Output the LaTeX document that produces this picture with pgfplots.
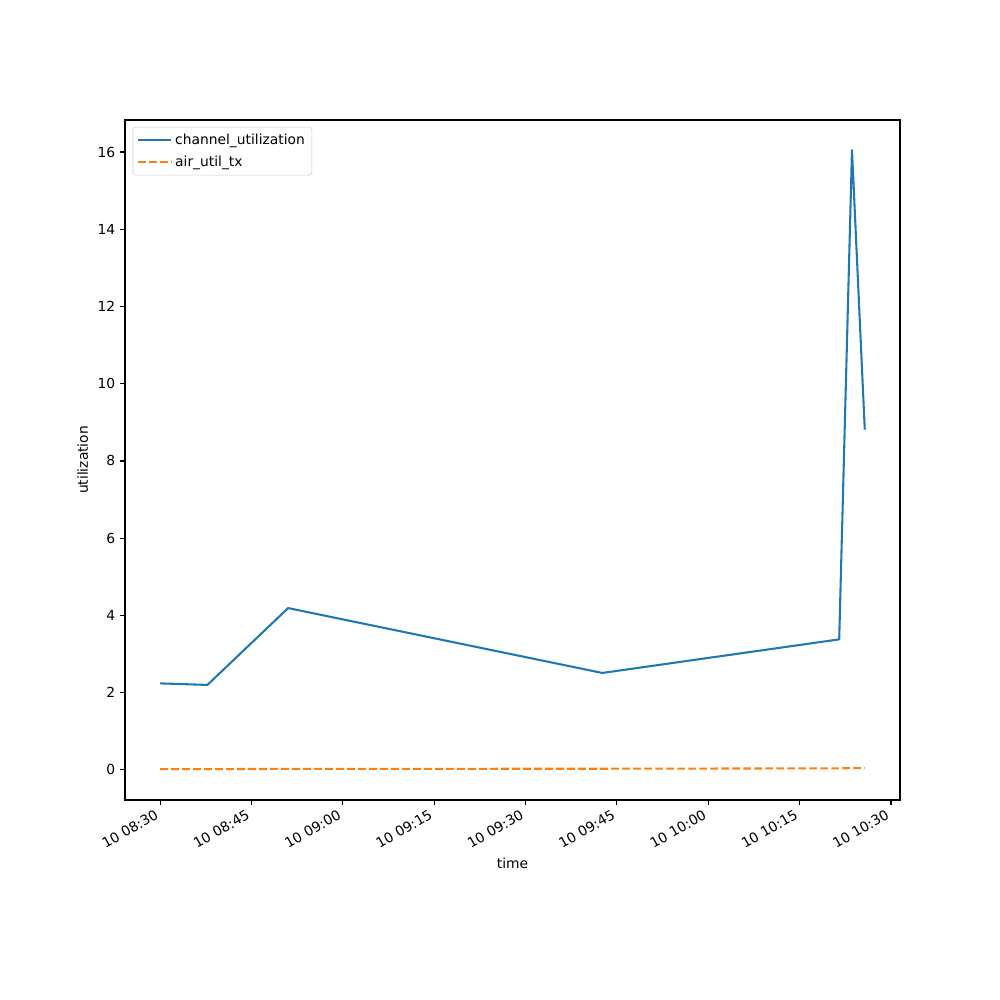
\documentclass[border=0pt]{standalone}
\usepackage{pgfplots}
\pgfplotsset{compat=1.18}
\usepackage{fontspec}
\setmainfont{DejaVu Sans}
\definecolor{tabblue}{HTML}{1F77B4}
\definecolor{taborange}{HTML}{FF7F0E}
\begin{document}
\begin{tikzpicture}
\begin{axis}[
  scale only axis,
  width=7.75in, height=6.8in,
  xmin=-5.785, xmax=121.485,
  ymin=-0.78, ymax=16.83,
  xtick={0,15,30,45,60,75,90,105,120},
  xticklabels={10 08:30,10 08:45,10 09:00,10 09:15,10 09:30,10 09:45,10 10:00,10 10:15,10 10:30},
  x tick label style={xshift=-3.6pt, rotate=30, anchor=north east, inner sep=2pt},
  ytick={0,2,4,6,8,10,12,14,16},
  tick align=outside,
  tick pos=left,
  major tick length=3.5pt,
  every tick/.style={black, line width=0.8pt},
  axis line style={line width=0.8pt},
  font=\fontsize{10pt}{12pt}\selectfont,
  tick label style={font=\fontsize{10pt}{12pt}\selectfont},
  /pgf/number format/assume math mode=true,
  xlabel={time}, ylabel={utilization},
  legend cell align=left,
  legend style={draw=black!20, rounded corners=2pt, font=\fontsize{10pt}{12pt}\selectfont, at={(0.01,0.99)}, anchor=north west, row sep=2.5pt, inner ysep=3pt},
  legend image code/.code={\draw[#1] (0pt,0pt) -- (20pt,0pt); \path (0pt,0pt) -- (24pt,0pt);},
]
\addplot[tabblue, line width=1.5pt, line join=round] coordinates {
  (0,2.24) (7.75,2.20) (21.0,4.19) (72.6,2.51) (111.5,3.38) (113.6,16.05) (115.7,8.81)
};
\addlegendentry{channel\_utilization}
\addplot[taborange, line width=1.5pt, dash pattern=on 5.55pt off 2.4pt] coordinates {
  (0,0.02) (7.75,0.02) (21.0,0.025) (72.6,0.03) (111.5,0.04) (113.6,0.045) (115.7,0.045)
};
\addlegendentry{air\_util\_tx}
\end{axis}
\path ([shift={(-1.25in,-2in)}]current axis.south west) rectangle ([shift={(1in,1.2in)}]current axis.north east);
\end{tikzpicture}
\end{document}
